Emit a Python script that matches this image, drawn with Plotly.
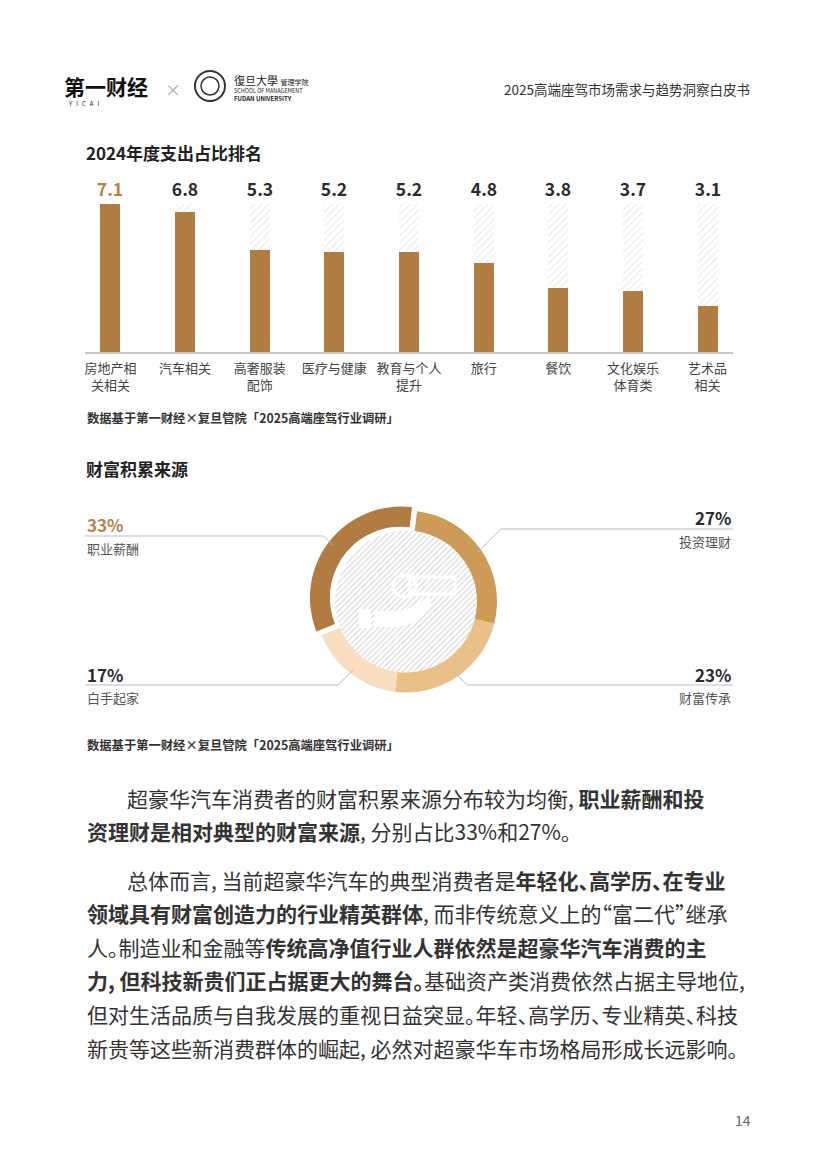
import math
import plotly.graph_objects as go

W, H = 818, 1157
OFF = 8  # default body margin of the page
FW, FH = W - 2 * OFF, H - 2 * OFF
FONT = "Noto Sans CJK SC"
BROWN = "#B07C42"
LABEL_BROWN = "#B3834C"

# 2024年度支出占比排名
spend_cats = ["房地产相<br>关相关", "汽车相关", "高奢服装<br>配饰", "医疗与健康", "教育与个人<br>提升",
              "旅行", "餐饮", "文化娱乐<br>体育类", "艺术品<br>相关"]
spend_vals = [7.1, 6.8, 5.3, 5.2, 5.2, 4.8, 3.8, 3.7, 3.1]

# 财富积累来源 (clockwise from top)
wealth_labels = ["投资理财", "财富传承", "白手起家", "职业薪酬"]
wealth_vals = [27, 23, 17, 33]
wealth_colors = ["#CD9A58", "#EABF88", "#F8DEBF", "#B07C42"]
wealth_pull = [0, 0, 0, 0.07]

source_text = "数据基于第一财经×复旦管院「2025高端座驾行业调研」"

body_lines = [
    (125, 798, "超豪华汽车消费者的财富积累来源分布较为均衡, <b>职业薪酬和投</b>"),
    (85, 831, "<b>资理财是相对典型的财富来源</b>, 分别占比33%和27%。"),
    (125, 880, "总体而言, 当前超豪华汽车的典型消费者是<b>年轻化、高学历、在专业</b>"),
    (85, 913, "<b>领域具有财富创造力的行业精英群体</b>, 而非传统意义上的“富二代”继承"),
    (85, 947, "人。制造业和金融等<b>传统高净值行业人群依然是超豪华汽车消费的主</b>"),
    (85, 980, "<b>力, 但科技新贵们正占据更大的舞台。</b>基础资产类消费依然占据主导地位,"),
    (85, 1014, "但对生活品质与自我发展的重视日益突显。年轻、高学历、专业精英、科技"),
    (85, 1048, "新贵等这些新消费群体的崛起, 必然对超豪华车市场格局形成长远影响。"),
]


def px(x):
    return (x - OFF) / FW


def py(y):
    return 1 - (y - OFF) / FH


def path(points, close=True):
    s = " ".join(("M" if i == 0 else "L") + f"{px(x):.5f},{py(y):.5f}" for i, (x, y) in enumerate(points))
    return s + (" Z" if close else "")


fig = go.Figure()

# ---- bar chart ----
xs = list(range(len(spend_vals)))
top = max(spend_vals)
fig.add_trace(go.Bar(
    x=xs, y=[top] * len(xs), width=0.27,
    marker=dict(color="white", line=dict(width=0),
                pattern=dict(shape="/", fgcolor="#cdcdcd", bgcolor="white", size=5, solidity=0.2)),
    text=[f"{v:.1f}" for v in spend_vals],
    texttemplate="<b>%{text}</b>",
    textposition="outside", constraintext="none", cliponaxis=False,
    textfont=dict(family=FONT, size=17.5, color=[LABEL_BROWN] + ["#2b2b2b"] * (len(xs) - 1)),
    hoverinfo="skip", showlegend=False,
))
fig.add_trace(go.Bar(
    x=xs, y=spend_vals, width=0.27,
    marker=dict(color=BROWN, line=dict(width=0)),
    name="支出占比", showlegend=False,
))

# ---- donut ----
cx, cy, R = 406, 601.5, 91
box = R * (1 + max(wealth_pull))
fig.add_trace(go.Pie(
    values=[1], hole=0, sort=False,
    marker=dict(colors=["white"], line=dict(width=0),
                pattern=dict(shape="/", fgcolor="#d2d2d2", bgcolor="white", size=4, solidity=0.25)),
    textinfo="none", hoverinfo="skip", showlegend=False,
    domain=dict(x=[px(cx - 71), px(cx + 71)], y=[py(cy + 71), py(cy - 71)]),
))
fig.add_trace(go.Pie(
    labels=wealth_labels, values=wealth_vals, hole=0.78, sort=False,
    direction="clockwise", rotation=7, pull=wealth_pull,
    marker=dict(colors=wealth_colors, line=dict(width=0)),
    textinfo="none", showlegend=False,
    domain=dict(x=[px(cx - box), px(cx + box)], y=[py(cy + box), py(cy - box)]),
))

annotations = []
shapes = []

# white hand + coins icon in the centre
shapes += [
    dict(type="circle", xref="paper", yref="paper", x0=px(393), x1=px(416), y0=py(597), y1=py(575),
         line=dict(color="white", width=3)),
    dict(type="path", xref="paper", yref="paper", line=dict(color="white", width=3),
         path=path([(410, 577), (455, 577), (455, 594), (410, 594)])),
    dict(type="path", xref="paper", yref="paper", line=dict(width=0), fillcolor="white",
         path=path([(359, 609), (371, 609), (371, 628), (359, 628)])),
    dict(type="path", xref="paper", yref="paper", line=dict(width=0), fillcolor="white",
         path=path([(374, 611), (398, 611), (408, 609), (418, 603), (426, 598), (432, 600),
                    (430, 606), (420, 617), (410, 624), (398, 627), (374, 627)])),
]

# donut labels + leader lines
total = sum(wealth_vals)
cum = 0
label_pos = {
    "投资理财": (733, 518, 541, 529, "right"),
    "财富传承": (733, 674, 697, 685, "right"),
    "白手起家": (85, 674, 697, 685, "left"),
    "职业薪酬": (85, 524, 548, 536, "left"),
}
for lab, v, pull in zip(wealth_labels, wealth_vals, wealth_pull):
    mid = math.radians(7 + (cum + v / 2) / total * 360)
    cum += v
    lx, y1, y2, ly, side = label_pos[lab]
    r0 = 86 + pull * R
    sx, sy = cx + r0 * math.sin(mid), cy - r0 * math.cos(mid)
    ex = sx + math.copysign(abs(sy - ly), math.sin(mid))
    shapes.append(dict(type="path", xref="paper", yref="paper", line=dict(color="#bdbdbd", width=1),
                       path=path([(sx, sy), (ex, ly), (lx, ly)], close=False)))
    color = LABEL_BROWN if v == max(wealth_vals) else "#2b2b2b"
    annotations.append(dict(x=px(lx), y=py(y1), xanchor=side, text=f"<b>{v}%</b>",
                            font=dict(size=17, color=color)))
    annotations.append(dict(x=px(lx), y=py(y2), xanchor=side, text=lab,
                            font=dict(size=13, color="#555")))

# header
annotations += [
    dict(x=px(62), y=py(86), text="<b>第一财经</b>", font=dict(size=21, color="#111")),
    dict(x=px(66), y=py(104), text="Y   I   C   A   I", font=dict(size=6, color="#111")),
    dict(x=px(163), y=py(89), text="×", font=dict(size=16, color="#aaa")),
    dict(x=px(232), y=py(80), text="復旦大學 <span style='font-size:7px'>管理学院</span>", font=dict(size=11, color="#222")),
    dict(x=px(232), y=py(91), text="SCHOOL OF MANAGEMENT", font=dict(size=5.5, color="#222")),
    dict(x=px(232), y=py(98), text="<b>FUDAN UNIVERSITY</b>", font=dict(size=6, color="#222")),
    dict(x=px(752), y=py(89), text="2025高端座驾市场需求与趋势洞察白皮书", xanchor="right", font=dict(size=13.5, color="#333")),
    dict(x=px(84), y=py(152), text="<b>2024年度支出占比排名</b>", font=dict(size=17, color="#222")),
    dict(x=px(85), y=py(418), text="<b>" + source_text + "</b>", font=dict(size=12.3, color="#333")),
    dict(x=px(84), y=py(469), text="<b>财富积累来源</b>", font=dict(size=17, color="#222")),
    dict(x=px(85), y=py(745), text="<b>" + source_text + "</b>", font=dict(size=12.3, color="#333")),
    dict(x=px(753), y=py(1120), text="14", xanchor="right", font=dict(size=14, color="#666")),
]
shapes.append(dict(type="circle", xref="paper", yref="paper", x0=px(195), x1=px(225), y0=py(101), y1=py(71),
                   line=dict(color="#333", width=2)))
shapes.append(dict(type="circle", xref="paper", yref="paper", x0=px(201), x1=px(219), y0=py(95), y1=py(77),
                   line=dict(color="#333", width=1.5)))

for x, y, txt in body_lines:
    annotations.append(dict(x=px(x), y=py(y), text="<span style=\"font-feature-settings:'halt'\">" + txt + "</span>",
                            font=dict(size=21, color="#333")))

for a in annotations:
    a.setdefault("xref", "paper")
    a.setdefault("yref", "paper")
    a.setdefault("xanchor", "left")
    a.setdefault("yanchor", "middle")
    a.setdefault("showarrow", False)
    a["font"].setdefault("family", FONT)

fig.update_layout(
    width=FW, height=FH,
    margin=dict(l=0, r=0, t=0, b=0),
    paper_bgcolor="white", plot_bgcolor="white",
    barmode="overlay", bargap=0,
    font=dict(family=FONT),
    xaxis=dict(domain=[px(85), px(733)], range=[-0.34, 8.34], tickvals=xs, ticktext=spend_cats,
               showgrid=False, zeroline=False, showline=True, linecolor="#c8c8c8", linewidth=1.5,
               ticks="", ticklabelstandoff=4, tickfont=dict(family=FONT, size=13, color="#444"), fixedrange=True),
    yaxis=dict(domain=[py(352), py(204)], range=[1.3, top], visible=False, fixedrange=True),
    annotations=annotations,
    shapes=shapes,
)

fig.write_html("out.html")
